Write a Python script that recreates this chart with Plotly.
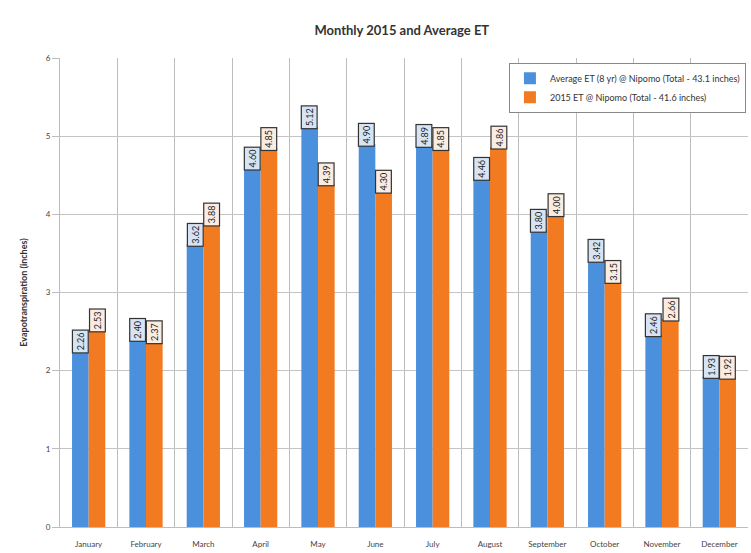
import plotly.graph_objects as go

months = ["January", "February", "March", "April", "May", "June", "July",
          "August", "September", "October", "November", "December"]
avg_et = [2.26, 2.40, 3.62, 4.60, 5.12, 4.90, 4.89, 4.46, 3.80, 3.42, 2.46, 1.93]
et_2015 = [2.53, 2.37, 3.88, 4.85, 4.39, 4.30, 4.85, 4.86, 4.00, 3.15, 2.66, 1.92]
avg_name = "Average ET (8 yr) @ Nipomo (Total - 43.1 inches)"
et2015_name = "2015 ET @ Nipomo (Total - 41.6 inches)"
y_ticks = [0, 1, 2, 3, 4, 5, 6]

BLUE = "#4a90dc"
ORANGE = "#f27a21"
FONT = "Lato"

fig = go.Figure()
fig.add_trace(go.Bar(x=months, y=avg_et, name=avg_name, marker_color=BLUE,
                     marker_line_width=0))
fig.add_trace(go.Bar(x=months, y=et_2015, name=et2015_name, marker_color=ORANGE,
                     marker_line_width=0))

annotations = []
for series, shift, bg in ((avg_et, -8.5, "#d6e4f3"), (et_2015, 8.5, "#fbece2")):
    for m, v in zip(months, series):
        annotations.append(dict(
            x=m, y=v, xref="x", yref="y", xshift=shift, yshift=-3,
            text=f"{v:.2f}", textangle=-90, showarrow=False,
            yanchor="bottom", xanchor="center",
            font=dict(family=FONT, size=9, color="#222222"),
            bgcolor=bg, bordercolor="#333333", borderwidth=1.2, borderpad=2,
        ))

fig.update_layout(
    width=751, height=553,
    paper_bgcolor="white", plot_bgcolor="white",
    margin=dict(l=60, r=3, t=58, b=26),
    barmode="group", bargap=0.42, bargroupgap=0,
    title=dict(text="<b>Monthly 2015 and Average ET</b>", x=0.535, xanchor="center",
               y=0.945, yanchor="middle",
               font=dict(family=FONT, size=13, color="#333333")),
    font=dict(family=FONT, size=8, color="#444444"),
    legend=dict(x=0.997, xanchor="right", y=0.99, yanchor="top",
                bgcolor="white", bordercolor="#888888", borderwidth=1,
                font=dict(family=FONT, size=9, color="#333333"),
                itemwidth=30, tracegroupgap=0),
    annotations=annotations,
    xaxis=dict(type="category", tickson="boundaries", showgrid=True,
               gridcolor="#bdbdbd", gridwidth=1, ticks="", ticklabelstandoff=9,
               showline=True,
               linecolor="#bdbdbd", tickfont=dict(family=FONT, size=8, color="#444444")),
    yaxis=dict(range=[0, 6], tickvals=y_ticks, showgrid=True, gridcolor="#c4c4c4",
               gridwidth=1, zeroline=False, showline=True, linecolor="#bdbdbd",
               ticks="outside", ticklen=7, tickcolor="#bdbdbd",
               tickfont=dict(family=FONT, size=8, color="#444444"),
               title=dict(text="<b>Evapotranspiration (inches)</b>", standoff=16,
                          font=dict(family=FONT, size=9, color="#333333"))),
)

fig.write_html("out.html", config={"displayModeBar": False},
               post_script="document.body.style.margin='0';document.body.style.padding='0';")
